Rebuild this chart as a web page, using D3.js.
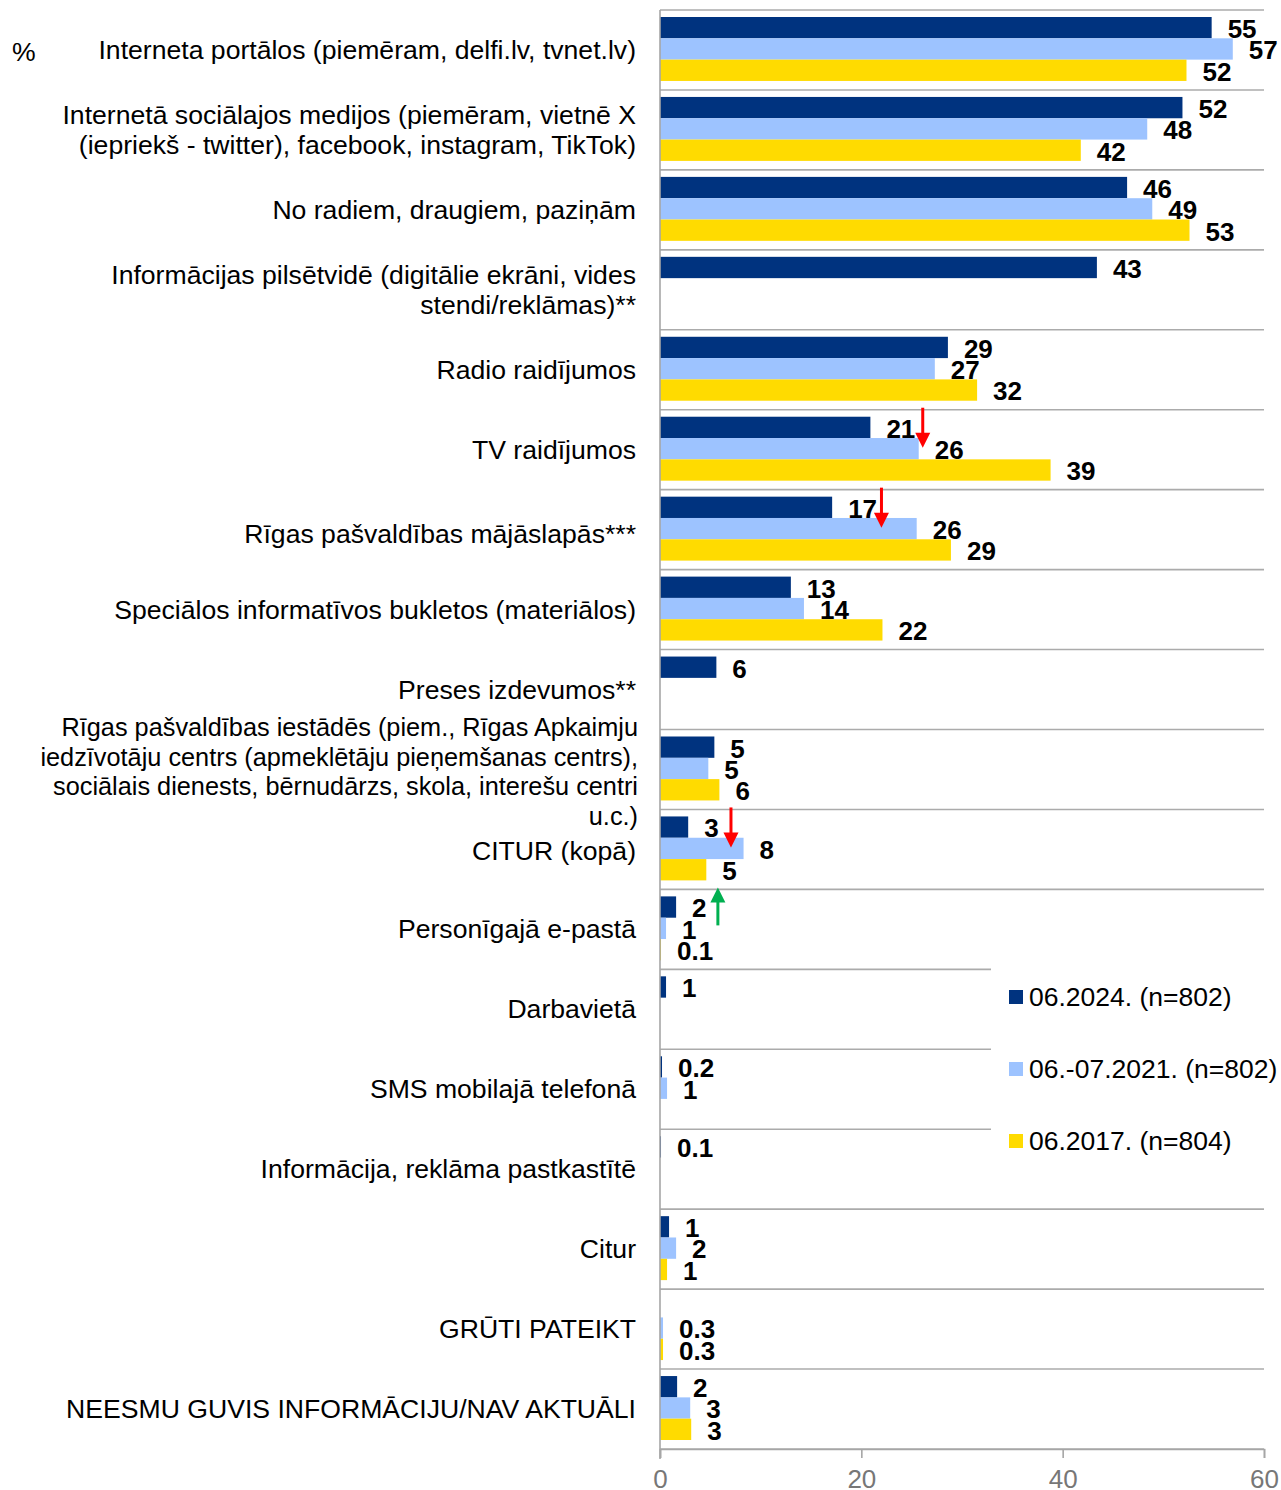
<!DOCTYPE html>
<html>
<head>
<meta charset="utf-8">
<script src="https://cdn.jsdelivr.net/npm/d3@7"></script>
<style>
  html, body { margin: 0; padding: 0; background: #fff; }
  svg { display: block; font-family: "Liberation Sans", Arial, sans-serif; }
</style>
</head>
<body>
<svg id="chart" width="1281" height="1490"></svg>
<script>
// ---------- DATA ----------
const categories = [
  "Interneta portālos (piemēram, delfi.lv, tvnet.lv)",
  "Internetā sociālajos medijos (piemēram, vietnē X\n(iepriekš - twitter), facebook, instagram, TikTok)",
  "No radiem, draugiem, paziņām",
  "Informācijas pilsētvidē (digitālie ekrāni, vides\nstendi/reklāmas)**",
  "Radio raidījumos",
  "TV raidījumos",
  "Rīgas pašvaldības mājāslapās***",
  "Speciālos informatīvos bukletos (materiālos)",
  "Preses izdevumos**",
  "Rīgas pašvaldības iestādēs (piem., Rīgas Apkaimju\niedzīvotāju centrs (apmeklētāju pieņemšanas centrs),\nsociālais dienests, bērnudārzs, skola, interešu centri\nu.c.)",
  "CITUR (kopā)",
  "Personīgajā e-pastā",
  "Darbavietā",
  "SMS mobilajā telefonā",
  "Informācija, reklāma pastkastītē",
  "Citur",
  "GRŪTI PATEIKT",
  "NEESMU GUVIS INFORMĀCIJU/NAV AKTUĀLI"
];

const seriesNames = ["06.2024. (n=802)", "06.-07.2021. (n=802)", "06.2017. (n=804)"];
const seriesColors = ["#00337f", "#9dc3ff", "#ffdb00"];

const values2024 = [54.8, 51.9, 46.4, 43.4, 28.6, 20.9, 17.1, 13.0, 5.6, 5.4, 2.8, 1.6, 0.6, 0.2, 0.1, 0.9, null, 1.7];
const values2021 = [56.9, 48.4, 48.9, null, 27.3, 25.7, 25.5, 14.3, null, 4.8, 8.3, 0.6, null, 0.7, null, 1.6, 0.3, 3.0];
const values2017 = [52.3, 41.8, 52.6, null, 31.5, 38.8, 28.9, 22.1, null, 5.9, 4.6, 0.1, null, null, null, 0.7, 0.3, 3.1];

const xTicks = [0, 20, 40, 60];

// significance arrows: category, direction, position along value axis
const arrows = [
  { cat: 5, dir: "down", at: 26.1, color: "#ff0000" },
  { cat: 6, dir: "down", at: 22.0, color: "#ff0000" },
  { cat: 10, dir: "down", at: 7.05, color: "#ff0000" },
  { cat: 11, dir: "up", at: 5.75, color: "#00b050" }
];

// ---------- CHART ----------
const svg = d3.select("#chart");
const FONT = 26;
const CAT_FONT = 26.6;

const x = d3.scaleLinear().domain([0, 60]).range([660, 1264]);
const y = d3.scaleBand().domain(d3.range(categories.length)).range([10, 1449]);
const inner = d3.scaleBand().domain([0, 1, 2]).range([7, y.bandwidth() - 9]);

const seriesValues = [values2024, values2021, values2017];

// grid lines (group separators)
const gridG = svg.append("g");
d3.range(categories.length + 1).forEach(i => {
  const yy = i < categories.length ? y(i) : 1449;
  gridG.append("line")
    .attr("x1", x(0)).attr("x2", x(60))
    .attr("y1", yy).attr("y2", yy)
    .attr("stroke", "#ababab").attr("stroke-width", 1.6);
});

// bars
const barsG = svg.append("g");
const labelsG = svg.append("g");
const fmt = v => v < 0.45 ? d3.format(".1f")(v) : String(Math.round(v));
seriesValues.forEach((vals, s) => {
  vals.forEach((v, i) => {
    if (v == null) return;
    const top = y(i) + inner(s);
    barsG.append("rect")
      .attr("x", x(0))
      .attr("y", top)
      .attr("width", Math.max(0, x(v) - x(0)))
      .attr("height", inner.bandwidth())
      .attr("fill", seriesColors[s]);
    labelsG.append("text")
      .attr("x", x(v) + 16)
      .attr("y", top + inner.bandwidth() / 2 + 1)
      .attr("dy", "0.36em")
      .attr("font-size", FONT)
      .attr("font-weight", "bold")
      .attr("fill", "#000")
      .text(fmt(v));
  });
});

// axes lines
svg.append("line")
  .attr("x1", x(0)).attr("x2", x(0))
  .attr("y1", 10).attr("y2", 1459)
  .attr("stroke", "#a6a6a6").attr("stroke-width", 1.6);

const xAxis = svg.append("g").attr("transform", "translate(0,1449)")
  .call(d3.axisBottom(x).tickValues(xTicks).tickSize(9).tickPadding(6).tickFormat(d3.format("d")));
xAxis.select(".domain").attr("stroke", "#a6a6a6").attr("stroke-width", 1.6);
xAxis.selectAll(".tick line").attr("stroke", "#a6a6a6").attr("stroke-width", 1.6);
xAxis.selectAll(".tick text")
  .attr("font-size", FONT)
  .attr("font-family", "'Liberation Sans', Arial, sans-serif")
  .attr("fill", "#777777")
  .attr("dy", null)
  .attr("y", 39);

// category labels
const catG = svg.append("g");
const catShift = { 6: 4, 9: 2, 10: 2 };
categories.forEach((c, i) => {
  const lines = c.split("\n");
  const cy = y(i) + y.bandwidth() / 2 + (catShift[i] || 0);
  const lh = lines.length > 2 ? 29.5 : 30.5;
  const first = cy - (lines.length - 1) * lh / 2 + 9;
  const t = catG.append("text")
    .attr("text-anchor", "end")
    .attr("font-size", lines.length > 2 ? 25.3 : CAT_FONT)
    .attr("fill", "#000");
  lines.forEach((ln, k) => {
    t.append("tspan").attr("x", i === 9 ? 638 : 636).attr("y", first + k * lh).text(ln);
  });
});

// percent sign
svg.append("text").attr("x", 12).attr("y", 61).attr("font-size", CAT_FONT).attr("fill", "#000").text("%");

// arrows
const arrG = svg.append("g");
arrows.forEach(a => {
  const ax = x(a.at);
  const top = y(a.cat);
  let tail, tip;
  if (a.dir === "down") { tail = top - 2; tip = top + 38; }
  else { tail = top + 36; tip = top - 2; }
  const sgn = a.dir === "down" ? 1 : -1;
  const headLen = 15, headW = 7.5;
  arrG.append("line")
    .attr("x1", ax).attr("x2", ax)
    .attr("y1", tail).attr("y2", tip - sgn * headLen + sgn * 1)
    .attr("stroke", a.color).attr("stroke-width", 3);
  arrG.append("path")
    .attr("d", `M${ax - headW},${tip - sgn * headLen} L${ax + headW},${tip - sgn * headLen} L${ax},${tip} Z`)
    .attr("fill", a.color);
});

// legend
const legG = svg.append("g");
legG.append("rect").attr("x", 991).attr("y", 962).attr("width", 290).attr("height", 238).attr("fill", "#fff");
seriesNames.forEach((n, s) => {
  const base = 1006 + s * 72;
  legG.append("rect").attr("x", 1009).attr("y", base - 16).attr("width", 14).attr("height", 14).attr("fill", seriesColors[s]);
  legG.append("text").attr("x", 1029).attr("y", base).attr("font-size", 26.5).attr("fill", "#000").text(n);
});
</script>
</body>
</html>
